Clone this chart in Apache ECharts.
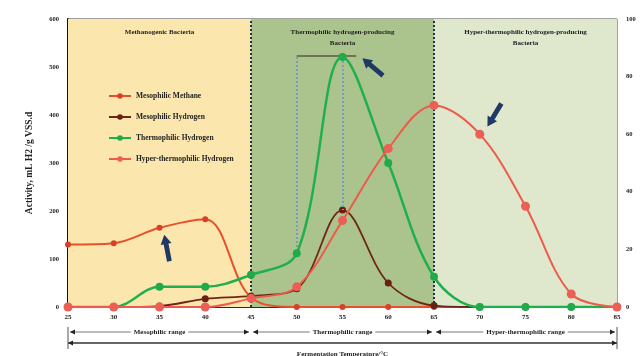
<!DOCTYPE html>
<html>
<head>
<meta charset="utf-8">
<script src="https://cdn.jsdelivr.net/npm/echarts@6/dist/echarts.min.js"></script>
<style>
  html, body { margin: 0; padding: 0; background: #fff; }
  #chart { width: 643px; height: 356px; }
</style>
</head>
<body>
<div id="chart"></div>
<script>
// temperatures (°C)
const temps = [25, 30, 35, 40, 45, 50, 55, 60, 65, 70, 75, 80, 85]
// left axis (mL H2 /g VSS.d)
const mesoMethane = [130, 133, 165, 183, 20, 0, 0, 0, 0, 0, 0, 0, 0]
const mesoHydrogen = [0, 0, 2, 17, 23, 38, 202, 50, 3, 0, 0, 0, 0]
const thermoHydrogen = [0, 0, 42, 42, 67, 112, 521, 300, 63, 0, 0, 0, 0]
// right axis
const hyperHydrogen = [0, 0, 0, 0, 3, 7, 30, 55, 70, 60, 35, 4.5, 0]

const leftTicks = { min: 0, max: 600, step: 100 }
const rightTicks = { min: 0, max: 100, step: 20 }

const bands = [
    { from: 25, to: 45, name: 'Methanogenic Bacteria', color: '#fbe7ad' },
    { from: 45, to: 65, name: 'Thermophilic hydrogen-producing\nBacteria', color: '#abc48e' },
    { from: 65, to: 85, name: 'Hyper-thermophilic hydrogen-producing\nBacteria', color: '#dfe7cc' }
]
const ranges = [
    { from: 25, to: 45, name: 'Mesophilic range' },
    { from: 45, to: 65, name: 'Thermophilic range' },
    { from: 65, to: 85, name: 'Hyper-thermophilic range' }
]

const pairs = (arr) => temps.map((t, i) => [t, arr[i]])
const font = 'Liberation Serif'
const arrowPath = 'path://M5,0 L10,6 L7.2,6 L7.2,17 L2.8,17 L2.8,6 L0,6 Z'

const chart = echarts.init(document.getElementById('chart'))
const option = {
    animation: false,
    textStyle: { fontFamily: font },
    grid: {
        left: 68, right: 26, top: 19, bottom: 49,
        show: true, borderColor: '#444', borderWidth: 1
    },
    legend: {
        orient: 'vertical',
        left: 103, top: 87,
        itemWidth: 22, itemHeight: 7, itemGap: 13,
        textStyle: { fontSize: 7.5, fontWeight: 'bold', color: '#222', fontFamily: font },
        data: ['Mesophilic Methane', 'Mesophilic Hydrogen', 'Thermophilic Hydrogen', 'Hyper-thermophilic Hydrogen']
    },
    xAxis: {
        type: 'value', min: 25, max: 85, interval: 5,
        axisLine: { lineStyle: { color: '#5a1c12', width: 2 } },
        axisTick: { show: false },
        splitLine: { show: false },
        axisLabel: { fontSize: 7, fontWeight: 'bold', color: '#222', margin: 7 }
    },
    yAxis: [
        {
            type: 'value', min: leftTicks.min, max: leftTicks.max, interval: leftTicks.step,
            name: 'Activity, mL H2 /g VSS.d',
            nameLocation: 'middle', nameGap: 33, nameRotate: 90,
            nameTextStyle: { fontSize: 9.5, fontWeight: 'bold', color: '#222' },
            axisLine: { show: true, lineStyle: { color: '#111', width: 2 } },
            axisTick: { show: true, inside: true, length: 3, lineStyle: { color: '#111' } },
            splitLine: { show: false },
            axisLabel: { fontSize: 6.5, fontWeight: 'bold', color: '#222', margin: 9 }
        },
        {
            type: 'value', min: rightTicks.min, max: rightTicks.max, interval: rightTicks.step,
            position: 'right',
            axisLine: { show: false },
            axisTick: { show: false },
            splitLine: { show: false },
            axisLabel: { fontSize: 6.5, fontWeight: 'bold', color: '#222', margin: 9 }
        }
    ],
    series: [
        {
            // background bands + separators
            name: 'bands', type: 'line', data: [], z: 0,
            markArea: {
                silent: true,
                label: {
                    position: 'insideTop', distance: 8,
                    fontSize: 7, fontWeight: 'bold', color: '#222', fontFamily: font, lineHeight: 11
                },
                data: bands.map(b => [
                    { xAxis: b.from, name: b.name, itemStyle: { color: b.color } },
                    { xAxis: b.to }
                ])
            },
            markLine: {
                silent: true, symbol: 'none',
                label: { show: false },
                lineStyle: { color: '#1f3350', type: 'dotted', width: 2 },
                data: [{ xAxis: 45 }, { xAxis: 65 }]
            }
        },
        {
            name: 'Mesophilic Methane', type: 'line', smooth: 0.35, z: 3,
            data: pairs(mesoMethane),
            symbol: 'circle', symbolSize: 6,
            lineStyle: { color: '#e8502c', width: 2 },
            itemStyle: { color: '#d8402a' }
        },
        {
            name: 'Mesophilic Hydrogen', type: 'line', smooth: 0.35, z: 4,
            data: pairs(mesoHydrogen),
            symbol: 'circle', symbolSize: 7,
            lineStyle: { color: '#6e2716', width: 1.8 },
            itemStyle: { color: '#6a1f12' }
        },
        {
            name: 'Thermophilic Hydrogen', type: 'line', smooth: 0.35, z: 5,
            data: pairs(thermoHydrogen),
            symbol: 'circle', symbolSize: 8,
            lineStyle: { color: '#1fb04c', width: 2.5 },
            itemStyle: { color: '#22a94a' },
            markLine: {
                silent: true, symbol: ['none', 'none'],
                label: { show: false },
                lineStyle: { color: '#7a9cc0', type: 'dotted', width: 2 },
                data: [
                    [{ coord: [50, 521] }, { coord: [50, 112] }],
                    [{ coord: [55, 521] }, { coord: [55, 202] }],
                    [{ coord: [50, 523], lineStyle: { color: '#5b5a3a', type: 'solid', width: 1.5 } },
                     { coord: [56.5, 523] }]
                ]
            },
            markPoint: {
                silent: true,
                symbol: arrowPath, symbolSize: [11, 27],
                itemStyle: { color: '#1f3864' },
                label: { show: false },
                data: [
                    { coord: [35.8, 123], symbolRotate: 11 },
                    { coord: [58.3, 500], symbolRotate: 50 },
                    { coord: [71.6, 400], symbolRotate: 149 }
                ]
            }
        },
        {
            name: 'Hyper-thermophilic Hydrogen', type: 'line', smooth: 0.35, z: 6,
            yAxisIndex: 1,
            data: pairs(hyperHydrogen),
            symbol: 'circle', symbolSize: 9,
            lineStyle: { color: '#ee5a4c', width: 2 },
            itemStyle: { color: '#ec5f55' }
        }
    ]
}
chart.setOption(option)

// range arrows under the axis
const rowY = [332, 343]
const g = []
const xPix = (v) => chart.convertToPixel({ xAxisIndex: 0 }, v)
const head = (x, y, dir, color) => ({
    type: 'polygon',
    shape: { points: [[x, y], [x - dir * 5, y - 2.5], [x - dir * 5, y + 2.5]] },
    style: { fill: color }
})
ranges.forEach(r => {
    const x0 = xPix(r.from) + 2, x1 = xPix(r.to) - 2
    g.push({ type: 'line', shape: { x1: x0, y1: rowY[0], x2: x1, y2: rowY[0] }, style: { stroke: '#777', lineWidth: 1 } })
    g.push(head(x0, rowY[0], -1, '#222'), head(x1, rowY[0], 1, '#222'))
    g.push({
        type: 'text', x: (x0 + x1) / 2, y: rowY[0],
        style: {
            text: r.name, align: 'center', verticalAlign: 'middle',
            font: 'bold 7px "Liberation Serif"', fill: '#222',
            backgroundColor: '#fff', padding: [0, 3]
        }
    })
})
const xa = xPix(25), xb = xPix(85)
g.push({ type: 'line', shape: { x1: xa, y1: rowY[1], x2: xb, y2: rowY[1] }, style: { stroke: '#333', lineWidth: 1.5 } })
g.push(head(xa, rowY[1], -1, '#222'), head(xb, rowY[1], 1, '#222'))
g.push({ type: 'line', shape: { x1: xa, y1: rowY[0] - 5, x2: xa, y2: rowY[1] + 6 }, style: { stroke: '#555', lineWidth: 1 } })
g.push({ type: 'line', shape: { x1: xb, y1: rowY[0] - 5, x2: xb, y2: rowY[1] + 6 }, style: { stroke: '#555', lineWidth: 1 } })
g.push({
    type: 'text', x: (xa + xb) / 2, y: 354,
    style: {
        text: 'Fermentation Temperature/°C', align: 'center', verticalAlign: 'middle',
        font: 'bold 7px "Liberation Serif"', fill: '#222'
    }
})
chart.setOption({ graphic: g })
</script>
</body>
</html>
